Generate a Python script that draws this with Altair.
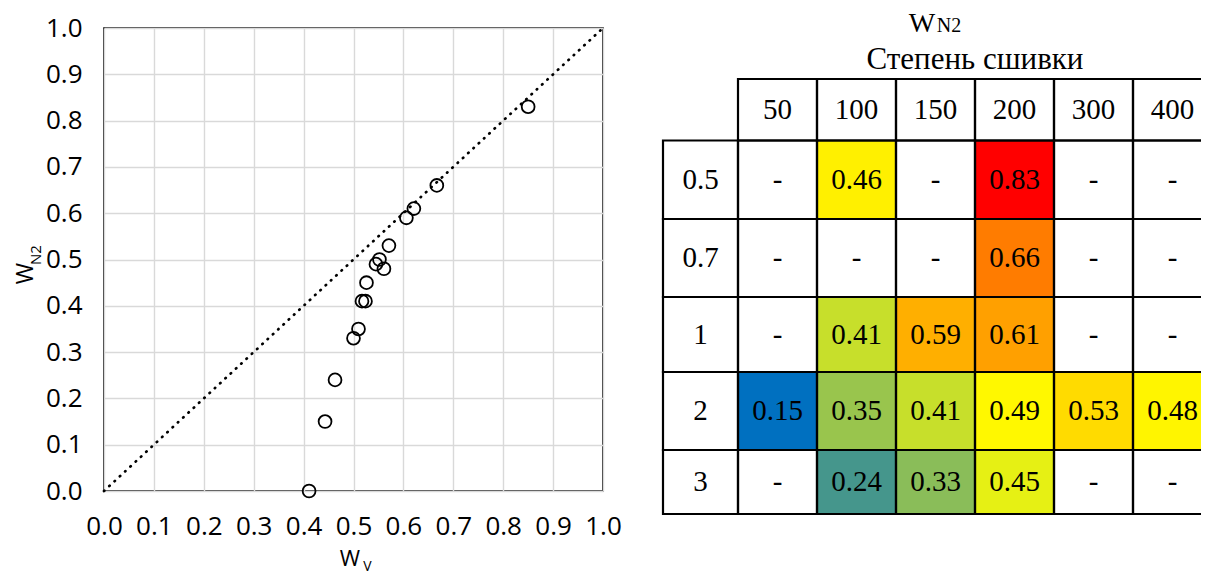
import altair as alt
import pandas as pd

# ---------------- data ----------------
# scatter: W_V (x) vs W_N2 (y)
wv = [0.850, 0.667, 0.621, 0.606, 0.571, 0.552, 0.545, 0.561, 0.526, 0.517, 0.524, 0.510, 0.500, 0.463, 0.443, 0.411]
wn2 = [0.83, 0.66, 0.61, 0.59, 0.53, 0.50, 0.49, 0.48, 0.45, 0.41, 0.41, 0.35, 0.33, 0.24, 0.15, 0.00]
diag_x = [0.0, 1.0]
diag_y = [0.0, 1.0]
ticks = [0.0, 0.1, 0.2, 0.3, 0.4, 0.5, 0.6, 0.7, 0.8, 0.9, 1.0]

# table: W_N2 by crosslink degree (columns) and row parameter
col_labels = ["50", "100", "150", "200", "300", "400"]
row_labels = ["0.5", "0.7", "1", "2", "3"]
row_05 = [None, 0.46, None, 0.83, None, None]
row_07 = [None, None, None, 0.66, None, None]
row_1 = [None, 0.41, 0.59, 0.61, None, None]
row_2 = [0.15, 0.35, 0.41, 0.49, 0.53, 0.48]
row_3 = [None, 0.24, 0.33, 0.45, None, None]
table_rows = [row_05, row_07, row_1, row_2, row_3]

table_title_main = "W"
table_title_sub = "N2"
table_subtitle = "Степень сшивки"
x_title_main, x_title_sub = "W", "V"
y_title_main, y_title_sub = "W", "N2"

# color scale stops (value -> colour)
color_domain = [0.15, 0.45, 0.46, 0.49, 0.83]
color_range = ["#0070C0", "#E6F014", "#FFF000", "#FFF800", "#FF0000"]

# ---------------- build tables ----------------
scatter_df = pd.DataFrame({"wv": wv, "wn2": wn2})
diag_df = pd.DataFrame({"x": diag_x, "y": diag_y})

cells = []
for j, lab in enumerate(col_labels):
    cells.append({"c": j + 1, "r": 0, "label": lab, "v": None})
for i, lab in enumerate(row_labels):
    cells.append({"c": 0, "r": i + 1, "label": lab, "v": None})
    for j, val in enumerate(table_rows[i]):
        cells.append({"c": j + 1, "r": i + 1,
                      "label": "-" if val is None else f"{val:.2f}", "v": val})
cells_df = pd.DataFrame(cells)

# ---------------- scatter ----------------
sx = alt.Scale(domain=[0, 1], nice=False, zero=False)
sy = alt.Scale(domain=[0, 1], nice=False, zero=False)
axis_common = dict(values=ticks, format=".1f", title=None, domain=False, ticks=False,
                   grid=True, gridColor="#D9D9D9", gridWidth=1.4,
                   labelFont="Open Sans", labelFontSize=26, labelColor="#000000",
                   labelPadding=22, labelOverlap=False, labelFlush=False,
                   labelBound=False)
ax_x = alt.Axis(**axis_common)
ax_y = alt.Axis(**axis_common)

diag = alt.Chart(diag_df).mark_line(
    color="black", strokeDash=[0.5, 6.7], strokeCap="round", strokeWidth=2.7
).encode(
    x=alt.X("x:Q", scale=sx, axis=ax_x),
    y=alt.Y("y:Q", scale=sy, axis=ax_y),
)
points = alt.Chart(scatter_df).mark_point(
    shape="circle", filled=False, color="black", size=165, strokeWidth=1.8, opacity=1
).encode(
    x=alt.X("wv:Q", scale=sx, axis=ax_x),
    y=alt.Y("wn2:Q", scale=sy, axis=ax_y),
)
scatter = alt.layer(diag, points)

# ---------------- table ----------------
tx = alt.Scale(domain=[0, 1, 7], range=[559, 634, 1108], nice=False, zero=False)
ty = alt.Scale(domain=[0, 1, 2, 3, 4, 5, 6],
               range=[51, 112.5, 191, 269, 344, 422, 486], nice=False, zero=False)

tbase = alt.Chart(cells_df).transform_calculate(
    c1="datum.c + 1", r1="datum.r + 1", cm="datum.c + 0.5", rm="datum.r + 0.5"
)
fills = tbase.transform_filter("datum.v != null").mark_rect(strokeWidth=0).encode(
    x=alt.X("c:Q", scale=tx, axis=None), x2="c1:Q",
    y=alt.Y("r:Q", scale=ty, axis=None), y2="r1:Q",
    color=alt.Color("v:Q", scale=alt.Scale(domain=color_domain, range=color_range,
                                           interpolate="rgb"), legend=None),
)
borders = tbase.mark_rect(fillOpacity=0, stroke="black", strokeWidth=2.2).encode(
    x=alt.X("c:Q", scale=tx, axis=None), x2="c1:Q",
    y=alt.Y("r:Q", scale=ty, axis=None), y2="r1:Q",
)
texts = tbase.mark_text(font="Liberation Serif", fontSize=29, color="black",
                        baseline="middle", align="center").encode(
    x=alt.X("cm:Q", scale=tx, axis=None),
    y=alt.Y("rm:Q", scale=ty, axis=None),
    text="label:N",
)
table = alt.layer(fills, borders, texts)

# ---------------- titles (text with subscripts) ----------------
def label(txt, x, y, size, font, angle=0, align="center"):
    kw = dict(font=font, fontSize=size, color="black", baseline="alphabetic", align=align)
    if angle:
        kw["angle"] = angle
    return alt.Chart(pd.DataFrame({"t": [txt]})).mark_text(**kw).encode(
        text="t:N", x=alt.value(x), y=alt.value(y))

titles = alt.layer(
    label(x_title_main, 246, 537.5, 22, "Open Sans"),
    label(x_title_sub, 263.5, 542.5, 14, "Open Sans"),
    label(y_title_main, -71, 245.5, 23, "Open Sans", angle=270),
    label(y_title_sub, -63, 227, 15, "Open Sans", angle=270),
    label(table_title_main, 818, 4, 28, "Liberation Serif"),
    label(table_title_sub, 845, 4, 20, "Liberation Serif"),
    label(table_subtitle, 871, 40.5, 31, "Liberation Serif"),
)

chart = alt.layer(scatter, table, titles).resolve_scale(
    x="independent", y="independent"
).properties(
    width=499, height=463,
    autosize=alt.AutoSizeParams(type="none"),
    padding={"left": 96, "top": 20, "right": 598, "bottom": 84},
).configure_view(stroke="black", strokeWidth=1.6)

chart.save("out.html", embed_options={"renderer": "svg", "actions": False})
